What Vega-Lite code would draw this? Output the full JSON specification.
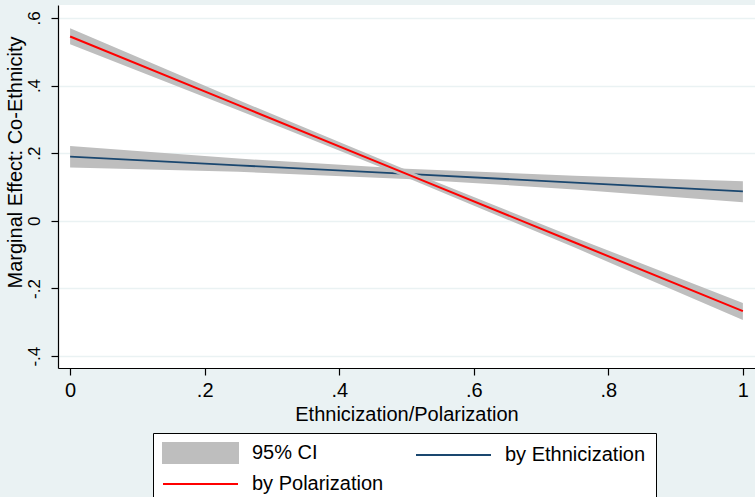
{
  "$schema": "https://vega.github.io/schema/vega-lite/v6.json",
  "autosize": {"type": "none"},
  "width": 697,
  "height": 363,
  "padding": {"left": 58, "top": 5, "right": 0, "bottom": 129},
  "background": "#EAF2F3",
  "config": {
    "view": {"fill": "white", "stroke": null},
    "font": "Liberation Sans",
    "axis": {
      "domainColor": "black", "tickColor": "black", "labelColor": "black", "titleColor": "black",
      "labelFont": "Liberation Sans", "titleFont": "Liberation Sans",
      "labelFontSize": 20, "titleFontSize": 20, "titleFontWeight": "normal",
      "tickSize": 7, "domainWidth": 1.2, "tickWidth": 1.2,
      "gridColor": "#EAF2F3", "gridWidth": 1.5
    }
  },
  "data": {
    "values": [
      {"x": 0, "series": "by Ethnicization", "est": 0.19, "lo": 0.158, "hi": 0.221},
      {"x": 0.25, "series": "by Ethnicization", "est": 0.164, "lo": 0.145, "hi": 0.184},
      {"x": 0.5, "series": "by Ethnicization", "est": 0.139, "lo": 0.124, "hi": 0.154},
      {"x": 0.75, "series": "by Ethnicization", "est": 0.113, "lo": 0.093, "hi": 0.133},
      {"x": 1, "series": "by Ethnicization", "est": 0.087, "lo": 0.055, "hi": 0.117},
      {"x": 0, "series": "by Polarization", "est": 0.545, "lo": 0.522, "hi": 0.569},
      {"x": 0.25, "series": "by Polarization", "est": 0.342, "lo": 0.327, "hi": 0.357},
      {"x": 0.5, "series": "by Polarization", "est": 0.139, "lo": 0.128, "hi": 0.150},
      {"x": 0.75, "series": "by Polarization", "est": -0.064, "lo": -0.079, "hi": -0.049},
      {"x": 1, "series": "by Polarization", "est": -0.267, "lo": -0.293, "hi": -0.243}
    ]
  },
  "encoding": {
    "x": {
      "field": "x", "type": "quantitative",
      "scale": {"domain": [-0.018, 1.018], "nice": false, "zero": false},
      "axis": {
        "values": [0, 0.2, 0.4, 0.6, 0.8, 1],
        "labelExpr": "replace(toString(datum.value), '0.', '.')",
        "grid": false, "title": "Ethnicization/Polarization",
        "labelPadding": 5, "titlePadding": 4
      }
    }
  },
  "layer": [
    {
      "transform": [{"filter": "datum.series == 'by Ethnicization'"}],
      "mark": {"type": "area", "opacity": 1},
      "encoding": {
        "y": {"field": "lo", "type": "quantitative"},
        "y2": {"field": "hi"},
        "color": {"datum": "95% CI"}
      }
    },
    {
      "transform": [{"filter": "datum.series == 'by Ethnicization'"}],
      "mark": {"type": "line", "strokeWidth": 1.8},
      "encoding": {
        "y": {"field": "est", "type": "quantitative"},
        "color": {"field": "series"}
      }
    },
    {
      "transform": [{"filter": "datum.series == 'by Polarization'"}],
      "mark": {"type": "area", "opacity": 1},
      "encoding": {
        "y": {"field": "lo", "type": "quantitative"},
        "y2": {"field": "hi"},
        "color": {"datum": "95% CI"}
      }
    },
    {
      "transform": [{"filter": "datum.series == 'by Polarization'"}],
      "mark": {"type": "line", "strokeWidth": 2},
      "encoding": {
        "y": {
          "field": "est", "type": "quantitative",
          "scale": {"domain": [-0.435, 0.638], "nice": false, "zero": false},
          "axis": {
            "values": [-0.4, -0.2, 0, 0.2, 0.4, 0.6],
            "labelExpr": "replace(toString(datum.value), '0.', '.')",
            "labelAngle": 270, "labelAlign": "center", "labelBaseline": "bottom",
            "labelPadding": 8, "labelFontSize": 17,
            "grid": true, "title": "Marginal Effect: Co-Ethnicity", "titlePadding": 0,
            "titleY": 157
          }
        },
        "color": {
          "field": "series", "type": "nominal",
          "scale": {"domain": ["95% CI", "by Ethnicization", "by Polarization"], "range": ["#BEBEBE", "#1A476F", "#FF0000"]},
          "legend": {
            "title": null, "orient": "none", "legendX": 95, "legendY": 428,
            "direction": "horizontal", "columns": 2,
            "strokeColor": "black", "fillColor": "white", "padding": 10,
            "labelFont": "Liberation Sans", "labelFontSize": 20, "labelColor": "black",
            "symbolSize": 225, "rowPadding": 7, "columnPadding": 28,
            "labelLimit": 300,
            "encode": {
              "symbols": {"update": {
                "shape": {"signal": "datum.value == '95% CI' ? 'M-5,-1.33H5V1.33H-5Z' : 'M-5,0H5'"},
                "fill": {"signal": "datum.value == '95% CI' ? '#BEBEBE' : 'transparent'"},
                "stroke": {"signal": "datum.value == '95% CI' ? 'transparent' : (datum.value == 'by Ethnicization' ? '#1A476F' : '#FF0000')"},
                "strokeWidth": {"value": 2},
                "opacity": {"value": 1},
                "x": {"value": 37.5}
              }},
              "labels": {"update": {"x": {"value": 89}}}
            }
          }
        }
      }
    }
  ]
}
